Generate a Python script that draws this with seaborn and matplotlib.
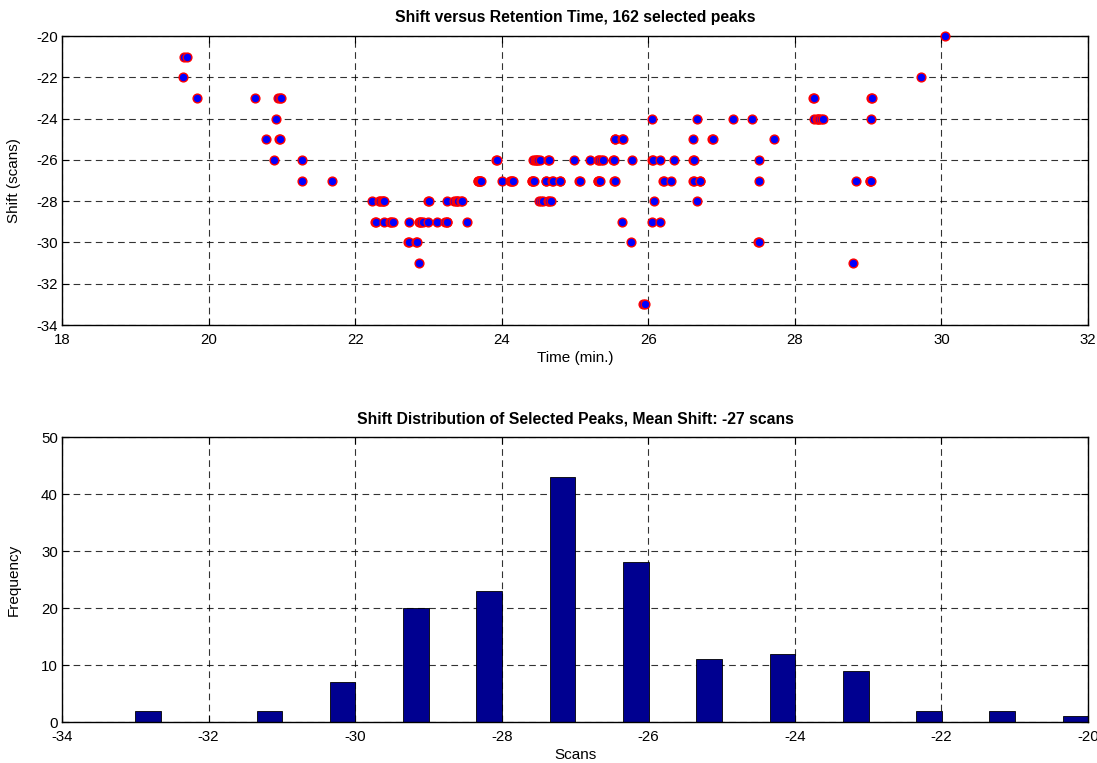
import numpy as np
import pandas as pd
import matplotlib
matplotlib.use("Agg")
import matplotlib.pyplot as plt
import seaborn as sns

# ---- data: retention times (min.) of peaks for each shift value (scans) ----
t_m20 = [30.05]
t_m21 = [19.67, 19.70]
t_m22 = [19.65, 29.72]
t_m23 = [19.84, 20.63, 20.95, 20.97, 20.99, 28.25, 28.26, 29.04, 29.05]
t_m24 = [20.92, 26.05, 26.66, 27.16, 27.42, 28.26, 28.30, 28.31, 28.33, 28.35,
         28.39, 29.04]
t_m25 = [20.78, 20.96, 20.97, 25.54, 25.55, 25.64, 25.65, 26.61, 26.87, 26.88,
         27.71]
t_m26 = [20.89, 21.27, 23.92, 23.93, 24.43, 24.45, 24.47, 24.48, 24.50, 24.52,
         24.63, 24.65, 24.98, 25.21, 25.31, 25.33, 25.36, 25.38, 25.52, 25.53,
         25.78, 26.05, 26.06, 26.16, 26.35, 26.61, 26.62, 27.51]
t_m27 = [21.27, 21.68, 23.67, 23.68, 23.69, 23.70, 23.71, 23.72, 24.00, 24.12,
         24.13, 24.14, 24.16, 24.41, 24.42, 24.43, 24.44, 24.60, 24.61, 24.69,
         24.70, 24.79, 24.80, 25.06, 25.07, 25.31, 25.32, 25.33, 25.34, 25.53,
         25.54, 26.20, 26.21, 26.31, 26.61, 26.62, 26.70, 26.71, 27.51, 28.83,
         29.02, 29.03, 29.04]
t_m28 = [22.23, 22.32, 22.34, 22.37, 22.38, 22.40, 23.00, 23.01, 23.26, 23.35,
         23.37, 23.39, 23.41, 23.44, 23.46, 24.51, 24.53, 24.56, 24.63, 24.65,
         24.67, 26.08, 26.66]
t_m29 = [22.27, 22.28, 22.40, 22.48, 22.49, 22.51, 22.73, 22.87, 22.88, 22.90,
         22.92, 23.00, 23.12, 23.23, 23.25, 23.26, 23.53, 25.64, 26.05, 26.16]
t_m30 = [22.72, 22.74, 22.83, 22.84, 25.76, 27.50, 27.51]
t_m31 = [22.87, 28.79]
t_m33 = [25.93, 25.95]

shift_levels = [-20, -21, -22, -23, -24, -25, -26, -27, -28, -29, -30, -31, -33]
time_groups = [t_m20, t_m21, t_m22, t_m23, t_m24, t_m25, t_m26, t_m27, t_m28,
               t_m29, t_m30, t_m31, t_m33]

# histogram
hist_centers = [-32.83, -31.17, -30.17, -29.17, -28.17, -27.17, -26.17,
                -25.17, -24.17, -23.17, -22.17, -21.17, -20.17]
hist_counts = [2, 2, 7, 20, 23, 43, 28, 11, 12, 9, 2, 2, 1]

top_title = "Shift versus Retention Time, 162 selected peaks"
bottom_title = "Shift Distribution of Selected Peaks, Mean Shift: -27 scans"

rows = []
for s, ts in zip(shift_levels, time_groups):
    for t in ts:
        rows.append((t, s))
scatter_df = pd.DataFrame(rows, columns=["time", "shift"])
hist_df = pd.DataFrame({"center": hist_centers, "count": hist_counts})

# ---- style ----
sns.set_theme(style="white")
plt.rcParams["font.family"] = ["Liberation Sans", "DejaVu Sans"]
plt.rcParams["axes.unicode_minus"] = False
plt.rcParams["axes.linewidth"] = 1.0
plt.rcParams["text.color"] = "black"
plt.rcParams["axes.labelcolor"] = "black"
plt.rcParams["xtick.color"] = "black"
plt.rcParams["ytick.color"] = "black"

fig = plt.figure(figsize=(10.97, 7.63), dpi=100)
ax1 = fig.add_axes([0.0565, 0.574, 0.9353, 0.3788])
ax2 = fig.add_axes([0.0565, 0.0537, 0.9353, 0.3735])

grid_kw = dict(color="black", linestyle=(0, (6, 4)), linewidth=0.8, alpha=0.8)
TICK_FS = 10.8
LABEL_FS = 11
TITLE_FS = 11.3


def matlab_axes(ax):
    ax.set_axisbelow(True)
    ax.grid(True, **grid_kw)
    for sp in ax.spines.values():
        sp.set_color("black")
        sp.set_linewidth(1.0)
    ax.tick_params(direction="in", length=5, width=0.8, top=True, right=True,
                   bottom=True, left=True, labelsize=TICK_FS, colors="black")
    ax.tick_params(axis="y", pad=3)
    ax.tick_params(axis="x", pad=5.5)
    ax.yaxis.set_label_coords(-0.040, 0.5)


# ---- top: scatter ----
sns.scatterplot(data=scatter_df, x="time", y="shift", ax=ax1, color="blue",
                edgecolor="red", linewidth=1.0, s=40, clip_on=False, zorder=3,
                legend=False)
ax1.set_xlim(18, 32)
ax1.set_ylim(-34, -20)
ax1.set_xticks(np.arange(18, 33, 2))
ax1.set_yticks(np.arange(-34, -19, 2))
ax1.set_xlabel("Time (min.)", fontsize=LABEL_FS, labelpad=3)
ax1.set_ylabel("Shift (scans)", fontsize=LABEL_FS)
ax1.set_title(top_title, fontsize=TITLE_FS, fontweight="bold", pad=10)
matlab_axes(ax1)

# ---- bottom: histogram ----
sns.barplot(data=hist_df, x="center", y="count", ax=ax2, native_scale=True,
            orient="x", width=0.35, color="#000090", saturation=1,
            edgecolor="black", linewidth=0.6, errorbar=None)
ax2.set_xlim(-34, -20)
ax2.set_ylim(0, 50)
ax2.set_xticks(np.arange(-34, -19, 2))
ax2.set_yticks(np.arange(0, 51, 10))
ax2.set_xlabel("Scans", fontsize=LABEL_FS, labelpad=3)
ax2.set_ylabel("Frequency", fontsize=LABEL_FS)
ax2.set_title(bottom_title, fontsize=TITLE_FS, fontweight="bold", pad=10)
matlab_axes(ax2)

fig.savefig("out.png", dpi=100)
